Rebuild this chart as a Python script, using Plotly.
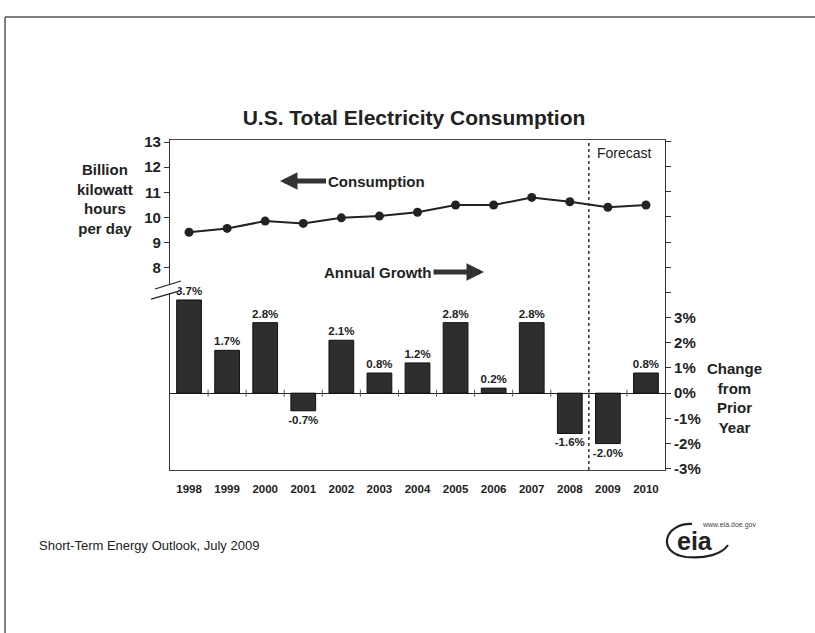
import plotly.graph_objects as go

years = [1998, 1999, 2000, 2001, 2002, 2003, 2004, 2005, 2006, 2007, 2008, 2009, 2010]
consumption = [9.42, 9.57, 9.86, 9.77, 9.99, 10.06, 10.21, 10.50, 10.50, 10.80, 10.63, 10.41, 10.50]
growth = [3.7, 1.7, 2.8, -0.7, 2.1, 0.8, 1.2, 2.8, 0.2, 2.8, -1.6, -2.0, 0.8]
growth_labels = [f"{g:.1f}%" for g in growth]
left_ticks = [8, 9, 10, 11, 12, 13]
right_ticks = list(range(-3, 11))
right_ticktext = [f"{v}%" if v <= 3 else "" for v in right_ticks]
forecast_boundary = 2008.5
category_boundaries = [y + 0.5 for y in years[:-1]]

FONT = "Arial, Liberation Sans, sans-serif"
DARK = "#222222"

W, H = 815, 633
L, R, T, B = 170, 150, 140, 163
PW, PH = W - L - R, H - T - B


def px(x):
    return (x - L) / PW


def py(y):
    return (H - B - y) / PH


def pt(x, y):
    return f"{px(x)},{py(y)}"


fig = go.Figure()

fig.add_trace(go.Bar(
    x=years, y=growth, yaxis="y2",
    marker=dict(color="#2e2e2e", line=dict(color="#111111", width=1)),
    width=0.65,
    text=growth_labels, textposition="outside", constraintext="none",
    textfont=dict(family=FONT, size=11.5, color=DARK, weight="bold"),
    cliponaxis=False, showlegend=False, hoverinfo="skip",
))

# small category tick marks on the 0% line
fig.add_trace(go.Scatter(
    x=category_boundaries, y=[0] * len(category_boundaries), yaxis="y2",
    mode="markers", marker=dict(symbol="line-ns-open", size=5, color="#555555",
                                line=dict(color="#555555", width=1)),
    showlegend=False, hoverinfo="skip",
))

fig.add_trace(go.Scatter(
    x=years, y=consumption, yaxis="y",
    mode="lines+markers",
    line=dict(color=DARK, width=2),
    marker=dict(color=DARK, size=9),
    showlegend=False,
))

shapes = [
    # forecast divider
    dict(type="line", xref="x", yref="paper", x0=forecast_boundary, x1=forecast_boundary,
         y0=0, y1=1, line=dict(color="#333333", width=1.5, dash="dot")),
    # axis break (white gap + two slashes)
    dict(type="path", xref="paper", yref="paper",
         path=f"M {pt(157, 288)} L {pt(179, 281)} L {pt(178, 291)} L {pt(153, 298)} Z",
         fillcolor="white", line=dict(width=0)),
    dict(type="line", xref="paper", yref="paper", x0=px(155), y0=py(289), x1=px(181), y1=py(281),
         line=dict(color=DARK, width=1.3)),
    dict(type="line", xref="paper", yref="paper", x0=px(151), y0=py(299), x1=px(179), y1=py(291),
         line=dict(color=DARK, width=1.3)),
    # outer frame
    dict(type="line", xref="paper", yref="paper", x0=px(5), y0=py(17), x1=px(815), y1=py(17),
         line=dict(color="#555555", width=1.5)),
    dict(type="line", xref="paper", yref="paper", x0=px(5), y0=py(17), x1=px(5), y1=py(633),
         line=dict(color="#555555", width=1.5)),
    # eia logo swoosh
    dict(type="path", xref="paper", yref="paper",
         path=f"M {pt(692, 524)} C {pt(664, 523)} {pt(656, 553)} {pt(686, 557)} "
              f"C {pt(706, 559)} {pt(722, 554)} {pt(728, 545)}",
         line=dict(color=DARK, width=2.2)),
]

annotations = [
    dict(xref="paper", yref="paper", x=px(105), y=py(199), xanchor="center", yanchor="middle",
         text="Billion<br>kilowatt<br>hours<br>per day",
         showarrow=False, font=dict(family=FONT, size=15, color=DARK, weight="bold"), align="center"),
    dict(xref="paper", yref="paper", x=px(734), y=py(398), xanchor="center", yanchor="middle",
         text="Change<br>from<br>Prior<br>Year",
         showarrow=False, font=dict(family=FONT, size=15, color=DARK, weight="bold"), align="center"),
    dict(xref="paper", yref="paper", x=px(280), y=py(181), ax=96, ay=0, text="Consumption",
         showarrow=True, arrowhead=2, arrowsize=0.7, arrowwidth=5, arrowcolor="#333333",
         font=dict(family=FONT, size=15, color=DARK, weight="bold")),
    dict(xref="paper", yref="paper", x=px(484), y=py(272), ax=-106, ay=0, text="Annual Growth",
         showarrow=True, arrowhead=2, arrowsize=0.7, arrowwidth=5, arrowcolor="#333333",
         font=dict(family=FONT, size=15, color=DARK, weight="bold")),
    dict(xref="paper", yref="paper", x=px(595), y=py(153), xanchor="left", yanchor="middle", text="Forecast",
         showarrow=False, font=dict(family=FONT, size=14, color=DARK)),
    dict(xref="paper", yref="paper", x=px(37), y=py(545), xanchor="left", yanchor="middle",
         text="Short-Term Energy Outlook, July 2009",
         showarrow=False, font=dict(family=FONT, size=13, color=DARK)),
    dict(xref="paper", yref="paper", x=px(695), y=py(541), xanchor="center", yanchor="middle", text="eia",
         showarrow=False, font=dict(family=FONT, size=25, color=DARK, weight="bold")),
    dict(xref="paper", yref="paper", x=px(700), y=py(525), xanchor="left", yanchor="middle", text="www.eia.doe.gov",
         showarrow=False, font=dict(family=FONT, size=7, color="#444444")),
]

fig.update_layout(
    width=W, height=H,
    margin=dict(l=L, r=R, t=T, b=B),
    paper_bgcolor="white", plot_bgcolor="white",
    font=dict(family=FONT, color=DARK),
    title=dict(text="U.S. Total Electricity Consumption", x=414 / W, xanchor="center",
               y=1 - 118 / H, yanchor="middle", xref="container", yref="container",
               font=dict(family=FONT, size=21, color=DARK, weight="bold")),
    xaxis=dict(range=[1997.5, 2010.5], tickvals=years, ticktext=[str(y) for y in years],
               tickfont=dict(family=FONT, size=11.5, color=DARK, weight="bold"),
               showline=True, linecolor="#444444", linewidth=1.2, mirror=True,
               showgrid=False, zeroline=False, ticks="", ticklabelstandoff=8),
    yaxis=dict(range=[-0.02, 13.08], tickvals=left_ticks, ticks="outside", ticklen=5,
               tickcolor="#333333",
               tickfont=dict(family=FONT, size=15, color=DARK, weight="bold"),
               showline=True, linecolor="#333333", linewidth=1.2,
               showgrid=False, zeroline=False),
    yaxis2=dict(range=[-3.05, 10.05], overlaying="y", side="right",
                tickvals=right_ticks, ticktext=right_ticktext, ticks="outside", ticklen=5,
                tickcolor="#333333",
                tickfont=dict(family=FONT, size=15, color=DARK, weight="bold"),
                showline=True, linecolor="#333333", linewidth=1.2,
                showgrid=False, zeroline=True, zerolinecolor="#222222", zerolinewidth=1.2),
    shapes=shapes,
    annotations=annotations,
    bargap=0.35,
)

fig.write_html("out.html")
